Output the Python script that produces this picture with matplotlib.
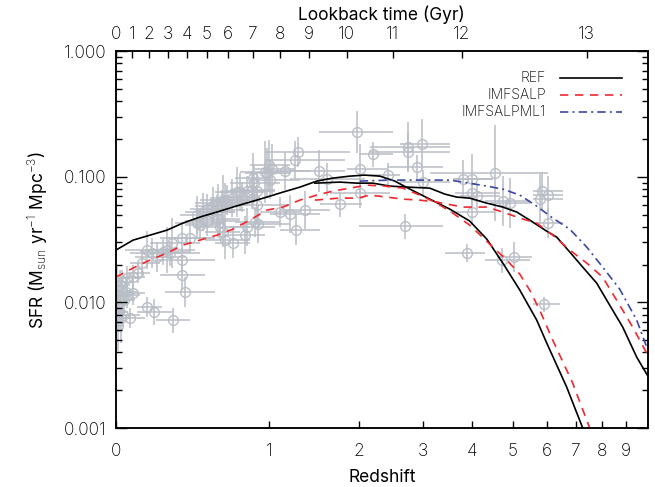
import numpy as np
import matplotlib
matplotlib.use("Agg")
import matplotlib.pyplot as plt
from matplotlib import font_manager

# ---------------- model curves ----------------
ref_low_z = [0, 0.08, 0.166, 0.259, 0.353, 0.461, 0.578, 0.696, 0.831, 0.977, 1.126, 1.295, 1.478,
             1.664, 1.876, 2.076, 2.294, 2.524, 2.772, 3.128, 3.518, 3.943, 4.34, 4.74, 5.198, 5.69,
             6.0, 6.66, 7.236]
ref_low_sfr = [0.0261, 0.0313, 0.0343, 0.0376, 0.0428, 0.0478, 0.0524, 0.0574, 0.0629, 0.0689,
               0.0755, 0.0827, 0.0924, 0.0976, 0.1012, 0.1031, 0.1012, 0.0924, 0.0798, 0.0664,
               0.0553, 0.0444, 0.0319, 0.0206, 0.01254, 0.00724, 0.00475, 0.00212, 0.001]

ref_high_z = [1.456, 1.75, 1.969, 2.19, 2.446, 2.72, 3.128, 3.418, 3.663, 3.945, 4.34, 4.74, 5.114,
              5.483, 6.0, 6.322, 6.767, 7.236, 7.772, 8.177, 8.865, 9.51, 10.05]
ref_high_sfr = [0.089, 0.0907, 0.089, 0.089, 0.0843, 0.0828, 0.0812, 0.0728, 0.0689, 0.0676,
                0.0617, 0.0574, 0.0524, 0.0452, 0.0369, 0.0331, 0.0252, 0.0191, 0.01425, 0.01044,
                0.00637, 0.00367, 0.0026]

salp_low_z = [0, 0.08, 0.166, 0.259, 0.353, 0.461, 0.578, 0.696, 0.831, 0.977, 1.126, 1.295, 1.478,
              1.664, 1.876, 2.106, 2.369, 2.654, 2.945, 3.261, 3.579, 3.945, 4.412, 4.846, 5.198,
              5.483, 5.782, 6.192, 6.872, 7.5]
salp_low_sfr = [0.0159, 0.01876, 0.02172, 0.0247, 0.0286, 0.0313, 0.0343, 0.0383, 0.0452, 0.0543,
                0.0574, 0.0652, 0.0715, 0.0769, 0.0812, 0.0858, 0.0843, 0.0812, 0.0715, 0.0617,
                0.0514, 0.0412, 0.0291, 0.0217, 0.0168, 0.01253, 0.00869, 0.00502, 0.00228, 0.001]

salp_high_z = [1.456, 1.75, 1.982, 2.148, 2.4, 2.654, 2.945, 3.261, 3.79, 4.34, 4.74, 5.198, 5.69,
               6.192, 6.767, 7.384, 8.013, 8.732, 9.32, 10.05]
salp_high_sfr = [0.0652, 0.0677, 0.0677, 0.0715, 0.0689, 0.0664, 0.0652, 0.0629, 0.0574, 0.0574,
                 0.0524, 0.0469, 0.0428, 0.0343, 0.0261, 0.0206, 0.0159, 0.00952, 0.00637, 0.00381]

salpml1_z = [2.009, 2.446, 2.999, 3.518, 3.79, 4.34, 4.74, 5.198, 5.69, 6.192, 6.767, 7.384, 8.013,
             8.732, 9.51, 10.05]
salpml1_sfr = [0.0924, 0.0941, 0.0941, 0.0941, 0.0907, 0.0843, 0.0798, 0.0715, 0.0584, 0.0469,
               0.0383, 0.0276, 0.0191, 0.01277, 0.00724, 0.00418]

# ---------------- observational compilation ----------------
obs_z = [0.005, 0.01, 0.01, 0.014, 0.023, 0.009, 0.032, 0.037, 0.046, 0.065, 0.08, 0.051, 0.018,
         0.027, 0.051, 0.08, 0.104, 0.124, 0.15, 0.187, 0.293, 0.15, 0.176, 0.203, 0.237, 0.259,
         0.276, 0.287, 0.347, 0.397, 0.347, 0.347, 0.365, 0.441, 0.441, 0.461, 0.48, 0.507, 0.507,
         0.54, 0.547, 0.578, 0.585, 0.585, 0.599, 0.613, 0.62, 0.62, 0.635, 0.635, 0.65, 0.688,
         0.696, 0.726, 0.75, 0.766, 0.79, 0.806, 0.806, 0.847, 0.856, 0.864, 0.873, 0.89, 0.89,
         0.899, 0.959, 0.977, 0.995, 1.004, 1.022, 1.097, 1.145, 1.194, 1.244, 1.254, 1.274, 1.348,
         1.50, 1.60, 1.75, 1.97, 2.009, 2.009, 2.19, 2.415, 2.69, 2.74, 2.74, 2.89, 2.98, 3.0, 3.79,
         3.88, 4.0, 4.0, 4.0, 4.12, 4.53, 4.71, 4.74, 4.92, 5.03, 5.78, 5.84, 6.03, 6.03, 5.9]
obs_sfr = [0.0135, 0.0112, 0.0095, 0.0084, 0.0075, 0.0065, 0.0079, 0.0104, 0.0121, 0.0075, 0.0119,
           0.0114, 0.0137, 0.0145, 0.0156, 0.0159, 0.0171, 0.0206, 0.0092, 0.0084, 0.0072, 0.0261,
           0.0247, 0.0230, 0.0252, 0.0261, 0.0247, 0.0297, 0.0325, 0.0325, 0.0217, 0.0165, 0.0121,
           0.0495, 0.0428, 0.0412, 0.0524, 0.0553, 0.0444, 0.0524, 0.0585, 0.0543, 0.0617, 0.046,
           0.0398, 0.0595, 0.0652, 0.0363, 0.0629, 0.0313, 0.0652, 0.0677, 0.0297, 0.0755, 0.0755,
           0.0689, 0.0343, 0.0769, 0.0398, 0.0783, 0.0976, 0.0891, 0.0436, 0.0769, 0.0595, 0.042,
           0.109, 0.107, 0.124, 0.094, 0.115, 0.0524, 0.111, 0.0505, 0.136, 0.0376, 0.157, 0.0543,
           0.111, 0.0957, 0.0606, 0.227, 0.115, 0.0741, 0.151, 0.103, 0.0405, 0.172, 0.157, 0.119,
           0.182, 0.0907, 0.0957, 0.0247, 0.0957, 0.0741, 0.0524, 0.0702, 0.107, 0.0217, 0.064,
           0.0617, 0.023, 0.0664, 0.0769, 0.0715, 0.0428, 0.0097]
obs_zlo = [0.0, 0.0, 0.0, 0.0, 0.0, 0.0, 0.005, 0.009, 0.009, 0.018, 0.027, 0.009, 0.0, 0.0, 0.009,
           0.027, 0.055, 0.065, 0.10, 0.10, 0.20, 0.041, 0.065, 0.09, 0.114, 0.14, 0.166, 0.166,
           0.22, 0.248, 0.192, 0.22, 0.248, 0.335, 0.305, 0.365, 0.365, 0.397, 0.365, 0.428, 0.428,
           0.461, 0.428, 0.461, 0.428, 0.494, 0.461, 0.494, 0.528, 0.494, 0.528, 0.528, 0.563,
           0.563, 0.599, 0.635, 0.635, 0.635, 0.673, 0.673, 0.711, 0.673, 0.711, 0.75, 0.711, 0.75,
           0.75, 0.79, 0.831, 0.831, 0.873, 0.916, 0.959, 1.004, 0.959, 1.097, 0.959, 1.097, 1.194,
           1.194, 1.512, 1.50, 1.84, 1.627, 2.0, 2.15, 2.0, 2.15, 2.15, 2.4, 2.6, 2.6, 3.58, 3.42,
           3.58, 3.62, 3.52, 3.73, 3.13, 4.29, 4.29, 4.41, 4.6, 5.57, 5.57, 5.57, 5.57, 5.57]
obs_zhi = [0.055, 0.046, 0.041, 0.055, 0.065, 0.037, 0.114, 0.09, 0.10, 0.14, 0.14, 0.114, 0.065,
           0.075, 0.114, 0.14, 0.166, 0.22, 0.23, 0.29, 0.40, 0.305, 0.335, 0.365, 0.397, 0.428,
           0.461, 0.461, 0.528, 0.563, 0.563, 0.494, 0.563, 0.563, 0.635, 0.60, 0.711, 0.673, 0.75,
           0.711, 0.75, 0.79, 0.831, 0.75, 0.831, 0.79, 0.916, 0.75, 0.79, 0.831, 0.831, 0.916,
           0.831, 0.916, 0.959, 0.916, 0.959, 1.004, 1.05, 1.05, 1.004, 1.097, 1.097, 1.05, 1.194,
           1.194, 1.194, 1.194, 1.194, 1.295, 1.244, 1.295, 1.401, 1.512, 1.81, 1.512, 1.876, 1.627,
           1.81, 2.08, 2.04, 2.50, 2.40, 2.446, 2.5, 2.6, 3.38, 3.52, 3.52, 3.38, 3.52, 3.52, 4.49,
           4.29, 4.49, 4.66, 4.54, 4.66, 6.03, 5.48, 5.48, 5.48, 5.54, 6.52, 6.52, 6.52, 6.52, 6.42]
obs_dex = [0.15, 0.10, 0.10, 0.15, 0.20, 0.20, 0.08, 0.10, 0.10, 0.08, 0.10, 0.10, 0.12, 0.10, 0.10,
           0.10, 0.08, 0.10, 0.08, 0.10, 0.10, 0.15, 0.12, 0.12, 0.10, 0.18, 0.10, 0.20, 0.12, 0.12,
           0.10, 0.12, 0.12, 0.15, 0.12, 0.12, 0.15, 0.12, 0.12, 0.10, 0.15, 0.12, 0.15, 0.15, 0.10,
           0.12, 0.20, 0.12, 0.15, 0.15, 0.12, 0.15, 0.12, 0.20, 0.15, 0.12, 0.15, 0.12, 0.15, 0.15,
           0.20, 0.15, 0.12, 0.15, 0.15, 0.15, 0.25, 0.20, 0.20, 0.15, 0.20, 0.12, 0.15, 0.15, 0.15,
           0.12, 0.12, 0.15, 0.17, 0.13, 0.10, 0.17, 0.20, 0.12, 0.10, 0.10, 0.10, 0.20, 0.15, 0.10,
           0.20, 0.10, 0.15, 0.07, 0.20, 0.12, 0.10, 0.10, 0.38, 0.10, 0.20, 0.20, 0.12, 0.20, 0.15,
           0.15, 0.12, 0.06]

# ---------------- axis tick data ----------------
z_ticks = [0, 1, 2, 3, 4, 5, 6, 7, 8, 9]
lookback_labels = ['0', '1', '2', '3', '4', '5', '6', '7', '8', '9', '10', '11', '12', '13']
lookback_tick_z = [0, 0.075, 0.161, 0.264, 0.378, 0.508, 0.658, 0.856, 1.097, 1.389, 1.837, 2.49,
                   3.77, 7.38]
y_ticks = [0.001, 0.01, 0.1, 1.0]
y_ticklabels = ['0.001', '0.010', '0.100', '1.000']

legend_labels = ['REF', 'IMFSALP', 'IMFSALPML1']

# ---------------- plotting ----------------
# pick a thin font if one is installed (the original uses a thin stroke font)
light_family = None
for f in font_manager.fontManager.ttflist:
    if f.name in ('DejaVu Sans', 'Open Sans', 'Lato', 'Roboto', 'Inter', 'Noto Sans') and \
            (f.weight in (200, 300, 'light', 'extra-light', 'ultralight')):
        light_family = f.name
        break
if light_family is not None:
    plt.rcParams['font.family'] = [light_family, 'DejaVu Sans']
    plt.rcParams['font.weight'] = 'light'
    plt.rcParams['mathtext.fontset'] = 'custom'
    plt.rcParams['mathtext.rm'] = light_family + ':light'
    plt.rcParams['mathtext.it'] = light_family + ':light'
else:
    plt.rcParams['font.family'] = ['DejaVu Sans']

TXT = '#000000'
GRAY = '#b9bec6'
RED = '#f0282d'
BLUE = '#3c46a5'


def fwd(z):
    z = np.asarray(z, dtype=float)
    return np.log10(np.maximum(1.0 + z, 1e-6))


def inv(u):
    return 10.0 ** np.asarray(u, dtype=float) - 1.0


fig = plt.figure(figsize=(6.55, 4.87), dpi=100)
ax = fig.add_axes([0.177, 0.121, 0.812, 0.774])
ax.set_xscale('function', functions=(fwd, inv))
ax.set_yscale('log')

oz = np.array(obs_z)
osf = np.array(obs_sfr)
xerr = [oz - np.array(obs_zlo), np.array(obs_zhi) - oz]
d = np.array(obs_dex)
yerr = [osf - osf * 10 ** (-d), osf * 10 ** d - osf]
ax.errorbar(oz, osf, xerr=xerr, yerr=yerr, fmt='o', mfc='none', mec=GRAY, ms=7, mew=1.0,
            ecolor=GRAY, elinewidth=1.1, capsize=0, zorder=1)

ax.plot(ref_low_z, ref_low_sfr, color='black', lw=1.2, zorder=3)
ax.plot(ref_high_z, ref_high_sfr, color='black', lw=1.2, zorder=3)
ax.plot(salp_low_z, salp_low_sfr, color=RED, lw=1.2, ls=(0, (5, 4)), zorder=3)
ax.plot(salp_high_z, salp_high_sfr, color=RED, lw=1.2, ls=(0, (5, 4)), zorder=3)
ax.plot(salpml1_z, salpml1_sfr, color=BLUE, lw=1.2, ls=(0, (5, 2.5, 1.2, 2.5)), zorder=3)

ax.set_xlim(0, 10.05)
ax.set_ylim(0.001, 1.0)

ax.set_xticks(z_ticks)
ax.set_xticklabels([str(t) for t in z_ticks])
ax.xaxis.set_minor_locator(matplotlib.ticker.NullLocator())
ax.set_yticks(y_ticks)
ax.set_yticklabels(y_ticklabels)
ax.yaxis.set_minor_locator(matplotlib.ticker.LogLocator(base=10, subs=np.arange(2, 10)))
ax.yaxis.set_minor_formatter(matplotlib.ticker.NullFormatter())

ax.tick_params(axis='x', which='major', direction='in', length=5, width=1, top=False,
               pad=11, labelsize=12.5, labelcolor=TXT)
ax.tick_params(axis='y', which='major', direction='in', length=8, width=1, right=True,
               pad=7, labelsize=12.5, labelcolor=TXT)
ax.tick_params(axis='y', which='minor', direction='in', length=4, width=1, right=True)
for s in ax.spines.values():
    s.set_linewidth(1.1)

ax.set_xlabel('Redshift', fontsize=12.5, color=TXT, labelpad=6)
ax.set_ylabel(r'SFR (M$_{\rm sun}$ yr$^{-1}$ Mpc$^{-3}$)', fontsize=12.5, color=TXT, labelpad=10)

ax2 = ax.twiny()
ax2.set_xscale('function', functions=(fwd, inv))
ax2.set_xlim(ax.get_xlim())
ax2.set_xticks(lookback_tick_z)
ax2.set_xticklabels(lookback_labels)
ax2.xaxis.set_minor_locator(matplotlib.ticker.NullLocator())
ax2.tick_params(axis='x', which='major', direction='in', length=5, width=1, pad=6,
                labelsize=12.5, labelcolor=TXT)
ax2.set_xlabel('Lookback time (Gyr)', fontsize=12.5, color=TXT, labelpad=4)
for s in ax2.spines.values():
    s.set_linewidth(1.1)

# legend (labels left, line samples right)
styles = [dict(color='black', ls='-'), dict(color=RED, ls=(0, (5, 4))),
          dict(color=BLUE, ls=(0, (5, 2.5, 1.2, 2.5)))]
rows = [0.928, 0.883, 0.838]
for lab, st, yy in zip(legend_labels, styles, rows):
    ax.text(0.808, yy, lab, transform=ax.transAxes, ha='right', va='center', fontsize=10,
            color=TXT)
    ax.plot([0.835, 0.951], [yy, yy], transform=ax.transAxes, lw=1.2, **st)

fig.savefig('out.png', dpi=100)
